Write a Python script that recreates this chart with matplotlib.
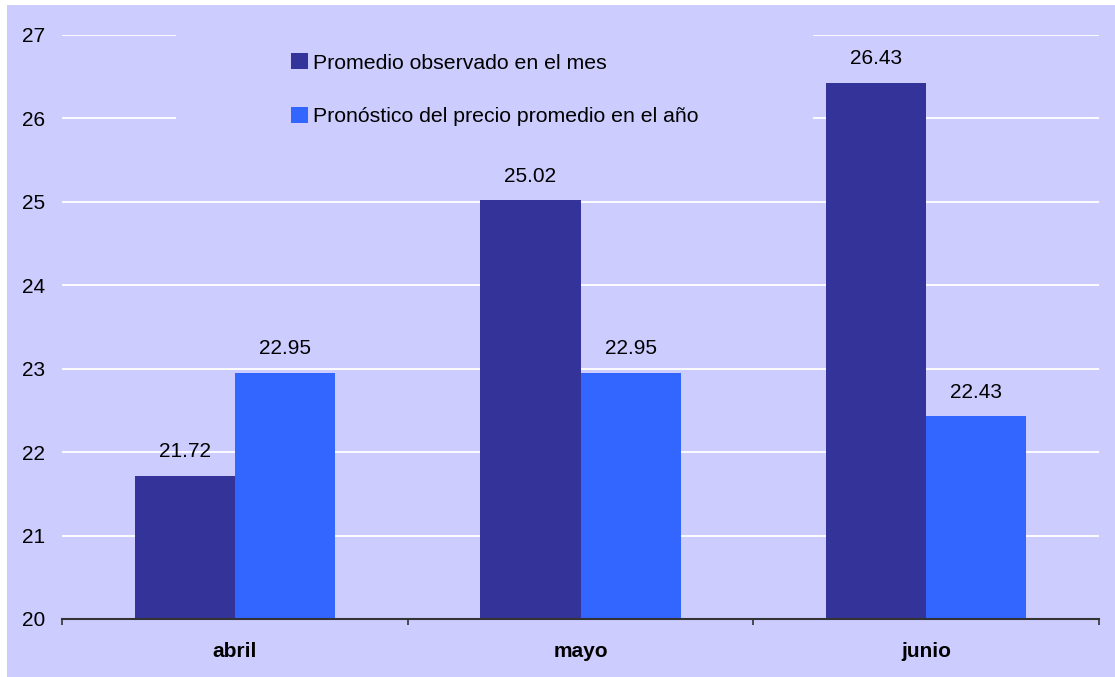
import matplotlib.pyplot as plt
import matplotlib.patches as mpatches
import numpy as np

meses = ['abril', 'mayo', 'junio']
observado = [21.72, 25.02, 26.43]
pronostico = [22.95, 22.95, 22.43]
serie_labels = ['Promedio observado en el mes',
                'Pronóstico del precio promedio en el año']

fondo = '#CCCCFF'
c_obs = '#333399'
c_pro = '#3366FF'

plt.rcParams['font.family'] = ['Liberation Sans', 'DejaVu Sans']

W, H = 1115, 677
fig = plt.figure(figsize=(W / 100, H / 100), dpi=100, facecolor='white')
# lavender panel behind everything
fig.patches.append(mpatches.Rectangle((7 / W, 0), 1 - 7 / W, (H - 5) / H,
                                      transform=fig.transFigure,
                                      facecolor=fondo, edgecolor='none', zorder=-5))

ax = fig.add_axes([62 / W, (H - 619) / H, (1099 - 62) / W, (619 - 35) / H])
ax.set_facecolor(fondo)

x = np.arange(len(meses))
w = 0.29
b1 = ax.bar(x - w / 2, np.array(observado) - 20, w, bottom=20, color=c_obs,
            label=serie_labels[0], zorder=3)
b2 = ax.bar(x + w / 2, np.array(pronostico) - 20, w, bottom=20, color=c_pro,
            label=serie_labels[1], zorder=3)

for xs, vals in [(x - w / 2, observado), (x + w / 2, pronostico)]:
    for xi, v in zip(xs, vals):
        ax.annotate(f'{v:.2f}', (xi, v), xytext=(0, 10.5), textcoords='offset points',
                    ha='center', va='bottom', fontsize=15, zorder=4)

ax.set_ylim(20, 27)
ax.set_xlim(-0.5, 2.5)
ax.set_yticks(range(20, 28))
ax.yaxis.grid(True, color='white', linewidth=1.3, zorder=1)
ax.set_axisbelow(True)

ax.set_xticks(x)
ax.set_xticklabels(meses, fontsize=15, fontweight='bold')
ax.set_xticks([-0.5, 0.5, 1.5, 2.5], minor=True)
ax.tick_params(axis='x', which='major', length=0, pad=16.5)
ax.tick_params(axis='x', which='minor', length=4, width=1.2, color='#333333', direction='out')
ax.tick_params(axis='y', length=0, pad=12, labelsize=15)

for s in ['left', 'right', 'top']:
    ax.spines[s].set_visible(False)
ax.spines['bottom'].set_color('#333333')
ax.spines['bottom'].set_linewidth(1.5)
ax.spines['bottom'].set_zorder(5)

# box behind the legend hides the grid lines there
to_ax = ax.transAxes.inverted()
(x0, y0), (x1, y1) = to_ax.transform([(176, H - 130), (813, H - 28)])
ax.add_patch(mpatches.Rectangle((x0, y0), x1 - x0, y1 - y0, transform=ax.transAxes,
                                facecolor=fondo, edgecolor='none', zorder=2, clip_on=False))

lx, ly = to_ax.transform((291, H - 53))
ax.legend(loc='upper left', bbox_to_anchor=(lx, ly), frameon=False, fontsize=15.3,
          borderpad=0, borderaxespad=0, handlelength=0.8, handleheight=0.8,
          handletextpad=0.25, labelspacing=1.6)

fig.savefig('out.png', dpi=100, facecolor='white')
